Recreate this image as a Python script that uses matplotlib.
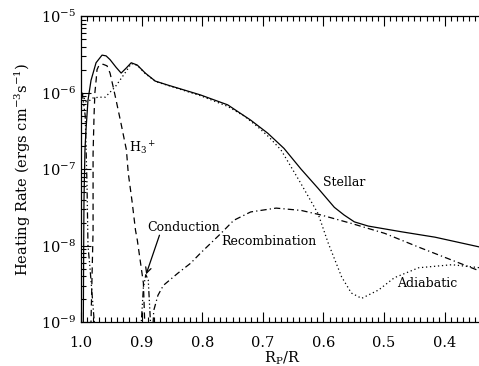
import matplotlib
matplotlib.use("Agg")
import matplotlib.pyplot as plt
import numpy as np
from matplotlib.ticker import FixedLocator, MultipleLocator, LogLocator, NullFormatter

# values: x = Rp/R, y = log10(heating rate)
stellar_x = [0.9962, 0.9955, 0.995, 0.9934, 0.9917, 0.9884, 0.9834, 0.9751, 0.9652,
             0.9585, 0.9519, 0.942, 0.9337, 0.9254, 0.9171, 0.9071, 0.8939, 0.8773,
             0.8574, 0.803, 0.758, 0.72, 0.692, 0.665, 0.637, 0.609, 0.582, 0.566,
             0.549, 0.526, 0.471, 0.416, 0.33]
stellar_y = [-9.2, -8.0, -7.41, -6.75, -6.49, -6.10, -5.84, -5.61, -5.51,
             -5.52, -5.57, -5.67, -5.745, -5.68, -5.61, -5.64, -5.745, -5.85,
             -5.90, -6.03, -6.16, -6.36, -6.53, -6.73, -7.00, -7.25, -7.50, -7.60,
             -7.69, -7.745, -7.82, -7.89, -8.04]

adiabatic_x = [0.9975, 0.992, 0.985, 0.98, 0.97, 0.96, 0.944, 0.935, 0.927, 0.917,
               0.907, 0.894, 0.877, 0.857, 0.803, 0.758, 0.73, 0.708, 0.69, 0.670,
               0.64, 0.609, 0.592, 0.570, 0.554, 0.537, 0.509, 0.483, 0.443, 0.388, 0.33]
adiabatic_y = [-6.02, -6.12, -6.10, -6.07, -6.06, -6.06, -5.93, -5.83, -5.74, -5.62,
               -5.645, -5.75, -5.855, -5.905, -6.04, -6.18, -6.31, -6.45, -6.58, -6.75,
               -7.15, -7.58, -7.97, -8.41, -8.62, -8.69, -8.58, -8.42, -8.29, -8.25, -8.30]

h3_x = [0.984, 0.982, 0.980, 0.980, 0.9784, 0.977, 0.975, 0.9735, 0.970, 0.9635,
        0.957, 0.952, 0.947, 0.942, 0.934, 0.925, 0.922, 0.9154, 0.910, 0.907, 0.897, 0.894]
h3_y = [-9.2, -8.5, -7.8, -6.8, -6.30, -6.0, -5.84, -5.70, -5.64, -5.63,
        -5.65, -5.745, -5.92, -6.10, -6.40, -6.75, -7.05, -7.44, -7.80, -7.93, -8.49, -9.2]

cond_x = [0.998, 0.993, 0.990, 0.9884, 0.985, 0.980, 0.976, np.nan,
          0.902, 0.897, 0.893, 0.889, 0.886, 0.884]
cond_y = [-6.0, -6.3, -7.2, -8.0, -8.3, -8.8, -9.2, np.nan,
          -9.2, -8.55, -8.38, -8.45, -8.9, -9.2]

recomb_x = [0.882, 0.880, 0.873, 0.864, 0.84, 0.819, 0.803, 0.769, 0.748, 0.72,
            0.678, 0.637, 0.604, 0.554, 0.499, 0.443, 0.33]
recomb_y = [-9.2, -8.85, -8.65, -8.52, -8.36, -8.23, -8.10, -7.84, -7.67, -7.56,
            -7.51, -7.54, -7.60, -7.71, -7.84, -8.02, -8.37]

plt.rcParams["font.family"] = "DejaVu Serif"
plt.rcParams["mathtext.fontset"] = "dejavuserif"

fig = plt.figure(figsize=(4.79, 3.66), dpi=100)
# right edge of the axes lies just past the picture, as in the original
ax = fig.add_axes([0.169, 0.120, 0.841, 0.836])

lw = 0.9
ax.plot(stellar_x, 10 ** np.array(stellar_y), color="black", lw=lw)
ax.plot(adiabatic_x, 10 ** np.array(adiabatic_y), color="black", lw=lw,
        linestyle=(0, (1, 2.2)))
ax.plot(h3_x, 10 ** np.array(h3_y), color="black", lw=lw, linestyle=(0, (5, 3.5)))
ax.plot(cond_x, 10 ** np.array(cond_y), color="black", lw=lw,
        linestyle=(0, (5, 2, 1, 2, 1, 2, 1, 2)))
ax.plot(recomb_x, 10 ** np.array(recomb_y), color="black", lw=lw,
        linestyle=(0, (5, 2.5, 1, 2.5)))

ax.set_yscale("log")
ax.set_xlim(1.0, 0.3355)
ax.set_ylim(1e-9, 1e-5)

ax.xaxis.set_major_locator(FixedLocator([1.0, 0.9, 0.8, 0.7, 0.6, 0.5, 0.4]))
ax.xaxis.set_minor_locator(MultipleLocator(0.01))
ax.set_xticklabels(["1.0", "0.9", "0.8", "0.7", "0.6", "0.5", "0.4"])
ax.yaxis.set_major_locator(LogLocator(base=10, numticks=10))
ax.yaxis.set_minor_locator(LogLocator(base=10, subs=np.arange(2, 10), numticks=20))
ax.yaxis.set_minor_formatter(NullFormatter())

ax.tick_params(which="both", direction="in", top=True, right=False, labelsize=10.5,
               width=0.8)
ax.tick_params(which="major", length=7)
ax.tick_params(which="minor", length=3.5)
ax.tick_params(axis="x", which="major", pad=10)
ax.spines["right"].set_visible(False)
for s in ax.spines.values():
    s.set_linewidth(0.9)

ax.set_xlabel(r"R$_{\rm P}$/R", fontsize=10.5, labelpad=0)
ax.set_ylabel(r"Heating Rate (ergs cm$^{-3}$s$^{-1}$)", fontsize=10.5, labelpad=6)

fs = 9
ax.text(0.920, 10 ** -6.73, r"H$_3$$^+$", fontsize=fs, va="center", ha="left")
ax.text(0.600, 10 ** -7.17, "Stellar", fontsize=fs, va="center", ha="left")
ax.text(0.890, 10 ** -7.76, "Conduction", fontsize=fs, va="center", ha="left")
ax.text(0.769, 10 ** -7.95, "Recombination", fontsize=fs, va="center", ha="left")
ax.text(0.479, 10 ** -8.49, "Adiabatic", fontsize=fs, va="center", ha="left")
ax.annotate("", xy=(0.894, 10 ** -8.41), xytext=(0.869, 10 ** -7.83),
            arrowprops=dict(arrowstyle="->", color="black", lw=0.9))

fig.savefig("out.png", dpi=100)
